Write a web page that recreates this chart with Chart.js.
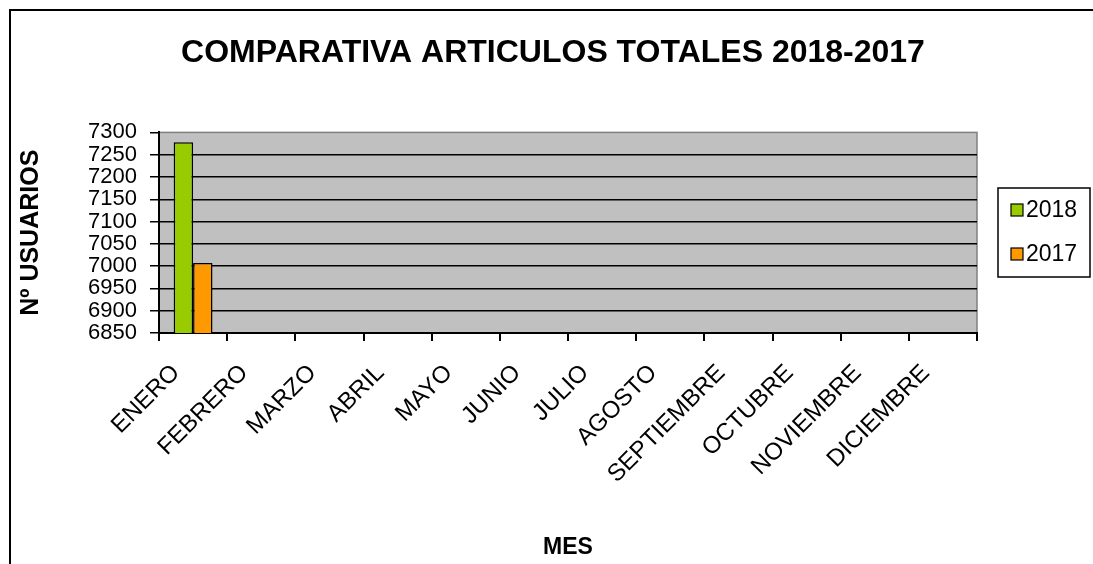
<!DOCTYPE html>
<html>
<head>
<meta charset="utf-8">
<script src="https://cdn.jsdelivr.net/npm/chart.js@4/dist/chart.umd.min.js"></script>
<style>
  body { margin: 0; background: #fff; }
  canvas { display: block; }
</style>
</head>
<body>
<canvas id="chart" width="1093" height="564"></canvas>
<script>
const months = ['ENERO', 'FEBRERO', 'MARZO', 'ABRIL', 'MAYO', 'JUNIO', 'JULIO', 'AGOSTO', 'SEPTIEMBRE', 'OCTUBRE', 'NOVIEMBRE', 'DICIEMBRE'];
const values2018 = [7278, null, null, null, null, null, null, null, null, null, null, null];
const values2017 = [7007, null, null, null, null, null, null, null, null, null, null, null];
const seriesLabels = ['2018', '2017'];
const seriesColors = ['#99CC00', '#FF9900'];

const FONT = '"Liberation Sans", Arial, sans-serif';

// fondo gris del area y marco exterior
const plotBackground = {
    id: 'plotBackground',
    beforeDraw(chart) {
        const { ctx, chartArea: a } = chart;
        ctx.save();
        ctx.fillStyle = '#C0C0C0';
        ctx.fillRect(a.left, a.top, a.right - a.left, a.bottom - a.top);
        ctx.strokeStyle = '#808080';
        ctx.lineWidth = 1.5;
        ctx.strokeRect(a.left, a.top, a.right - a.left, a.bottom - a.top);
        ctx.strokeStyle = '#000';
        ctx.lineWidth = 2;
        ctx.strokeRect(10, 10, chart.width + 20, chart.height + 20);
        ctx.restore();
    }
};

// leyenda con recuadro, a la derecha
const boxLegend = {
    id: 'boxLegend',
    afterDraw(chart) {
        const { ctx } = chart;
        ctx.save();
        ctx.strokeStyle = '#000';
        ctx.lineWidth = 1.5;
        ctx.strokeRect(998, 188, 92, 89);
        ctx.font = '23px ' + FONT;
        ctx.textBaseline = 'middle';
        chart.data.datasets.forEach((ds, i) => {
            const y = 210 + i * 44;
            ctx.fillStyle = ds.backgroundColor;
            ctx.fillRect(1011, y - 6, 12, 12);
            ctx.strokeStyle = '#000';
            ctx.lineWidth = 1.2;
            ctx.strokeRect(1011, y - 6, 12, 12);
            ctx.fillStyle = '#000';
            ctx.fillText(ds.label, 1026, y + 1);
        });
        ctx.restore();
    }
};

new Chart(document.getElementById('chart'), {
    type: 'bar',
    data: {
        labels: months,
        datasets: [
            { label: seriesLabels[0], data: values2018, backgroundColor: seriesColors[0], borderColor: '#000', borderWidth: 1.5 },
            { label: seriesLabels[1], data: values2017, backgroundColor: seriesColors[1], borderColor: '#000', borderWidth: 1.5 }
        ]
    },
    options: {
        responsive: false,
        animation: false,
        categoryPercentage: 0.57,
        barPercentage: 1,
        layout: { padding: { top: 0, right: 0, left: 13, bottom: 0 } },
        plugins: {
            legend: { display: false },
            tooltip: { enabled: false },
            title: {
                display: true,
                text: 'COMPARATIVA ARTICULOS TOTALES 2018-2017',
                color: '#000',
                font: { family: FONT, size: 32, weight: 'bold' },
                padding: { top: 34, bottom: 60 }
            }
        },
        scales: {
            x: {
                afterFit(scale) { scale.height = 231; },
                border: { color: '#000', width: 2 },
                grid: { drawOnChartArea: false, color: '#000', lineWidth: 2, tickLength: 8, offset: true },
                ticks: {
                    color: '#000',
                    font: { family: FONT, size: 24 },
                    minRotation: 45,
                    maxRotation: 45,
                    padding: 18,
                    labelOffset: -17,
                    autoSkip: false
                },
                title: {
                    display: true,
                    text: 'MES',
                    color: '#000',
                    font: { family: FONT, size: 23, weight: 'bold' },
                    padding: { top: 0, bottom: 3 }
                }
            },
            y: {
                min: 6850,
                max: 7300,
                afterFit(scale) { scale.width = 146; },
                border: { color: '#000', width: 2 },
                grid: {
                    color: (c) => c.tick && c.tick.value === 7300 ? 'rgba(0,0,0,0)' : '#000',
                    tickColor: '#000',
                    lineWidth: 1.5,
                    tickLength: 9
                },
                ticks: {
                    stepSize: 50,
                    autoSkip: false,
                    color: '#000',
                    font: { family: FONT, size: 22 },
                    padding: 13,
                    callback: (v) => String(v)
                },
                title: {
                    display: true,
                    text: 'Nº USUARIOS',
                    color: '#000',
                    font: { family: FONT, size: 25, weight: 'bold' },
                    padding: { top: 3, bottom: 0 }
                }
            },
            // eje vacio: reserva el sitio de la leyenda
            legendSpace: {
                type: 'linear',
                position: 'right',
                afterFit(scale) { scale.width = 116; },
                grid: { display: false },
                border: { display: false },
                ticks: { display: false }
            }
        }
    },
    plugins: [plotBackground, boxLegend]
});
</script>
</body>
</html>
